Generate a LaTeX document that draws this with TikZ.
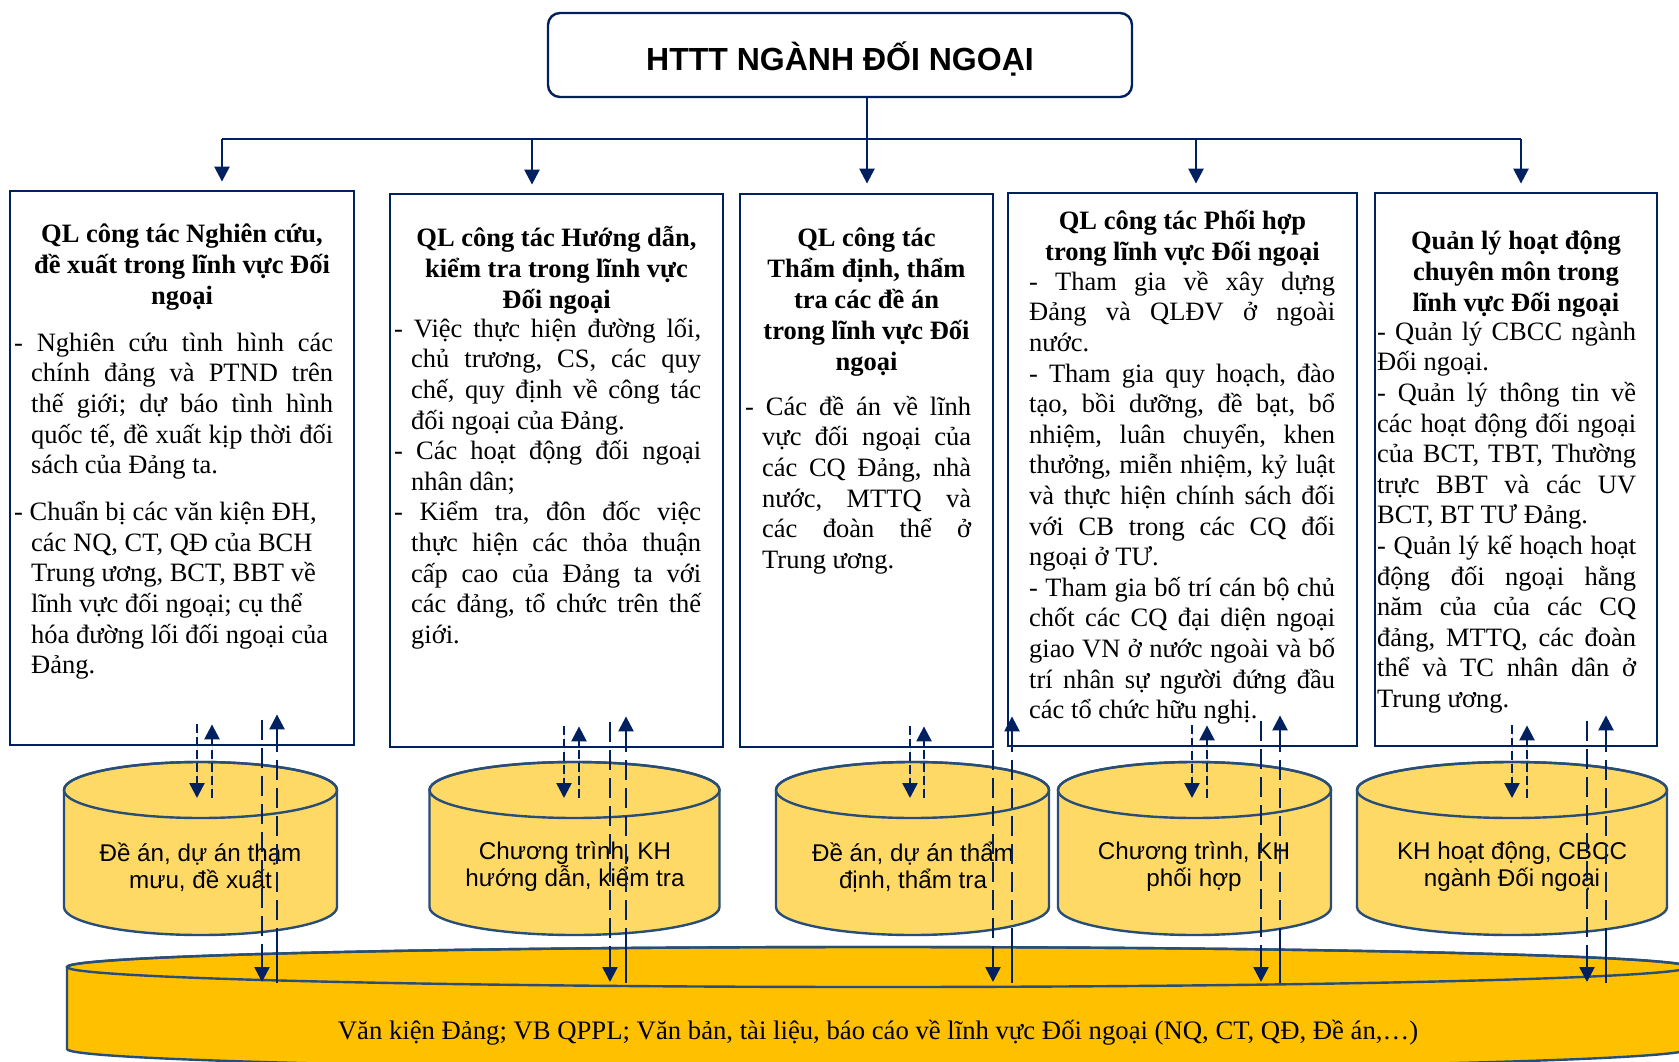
\documentclass[tikz,border=0pt]{standalone}
\usepackage{fontspec}
\setmainfont{Liberation Serif}
\newfontfamily\sansfam{Liberation Sans}
\usetikzlibrary{arrows.meta,calc}
\definecolor{navy}{RGB}{0,32,96}
\definecolor{rim}{RGB}{40,78,120}
\definecolor{goldlight}{RGB}{255,217,102}
\definecolor{gold}{RGB}{255,192,0}
\newlength\hangw
\setlength\hangw{17pt}
% word spacing: natural font spaces, and freely stretchable ones for justified lines
\newcommand\natsp{\spaceskip=0pt\relax\xspaceskip=0pt\relax}
\newcommand\jsp{\spaceskip=\fontdimen2\font plus 1fill minus \fontdimen4\font\relax\xspaceskip=0pt\relax}
% justified line of given content, and the same with a hanging dash
\newcommand\jline[1]{\makebox[\hsize][s]{\jsp #1}}
\newcommand\hjline[1]{\hspace*{-\hangw}\makebox[\dimexpr\hsize+\hangw\relax][s]{\jsp #1}}
\newcommand\firstline{\rule{0pt}{24pt}}

\begin{document}
\begin{tikzpicture}[x=1pt,y=-1pt,
  frame/.style={draw=navy, line width=2.8pt, fill=white, inner sep=0pt},
  topbox/.style={frame, rounded corners=12pt, line width=2.4pt,
    font=\sansfam\bfseries\fontsize{32pt}{36pt}\selectfont, text height=31pt, text depth=0pt},
  ttl/.style={align=center, inner sep=0pt, font=\bfseries\fontsize{26.5pt}{31pt}\selectfont},
  body/.style={align=left, inner sep=0pt, anchor=north west,
    font=\frenchspacing\fontsize{26.5pt}{30.6pt}\selectfont},
  cyl/.style={draw=rim, line width=2.4pt, fill=goldlight},
  bigcyl/.style={draw=rim, line width=2.4pt, fill=gold},
  cyltext/.style={align=center, inner sep=0pt, font=\sansfam\fontsize{24.2pt}{27pt}\selectfont},
  ln/.style={draw=navy, line width=2.5pt},
  sdash/.style={ln, dash pattern=on 9pt off 4pt},
  ldash/.style={ln, dash pattern=on 20pt off 8pt},
  tip/.style={-{Triangle[width=15pt,length=15pt]}, fill=navy}
]
\useasboundingbox (0,0) rectangle (1679,1062);
\clip (0,0) rectangle (1679,1062);
\fill[white] (0,0) rectangle (1679,1062);

% ---------- shared archive (large cylinder) ----------
\filldraw[bigcyl] (67,967) arc[start angle=180,end angle=0,x radius=811pt,y radius=20pt]
  -- (1689,1049) arc[start angle=0,end angle=-180,x radius=811pt,y radius=20pt] -- cycle;
\draw[bigcyl, fill=none] (878,967) ellipse[x radius=811pt,y radius=20pt];
\coordinate (dbtop) at (878,967);
\node[font=\fontsize{26.7pt}{30pt}\selectfont, inner sep=0pt] (db) at (878,1033)
  {Văn kiện Đảng; VB QPPL; Văn bản, tài liệu, báo cáo về lĩnh vực Đối ngoại (NQ, CT, QĐ, Đề án,…)};

% ---------- small cylinders ----------
\foreach \i/\cx/\rx in {1/200.5/136.5, 2/574.5/145, 3/912.5/136.5, 4/1194.5/136.5, 5/1512/155}{
  \filldraw[cyl] ({\cx-\rx},790) arc[start angle=180,end angle=0,x radius=\rx pt,y radius=28pt]
    -- ({\cx+\rx},907) arc[start angle=0,end angle=-180,x radius=\rx pt,y radius=28pt] -- cycle;
  \draw[cyl, fill=none] (\cx,790) ellipse[x radius=\rx pt,y radius=28pt];
  \coordinate (ct\i) at (\cx,790);
}
\node[cyltext] (c1) at (200.5,867) {Đề án, dự án thạm\\mưu, đề xuất};
\node[cyltext] (c2) at (575,867) {Chương trình, KH\\hướng dẫn, kiểm tra};
\node[cyltext] (c3) at (913,867) {Đề án, dự án thẩm\\định, thẩm tra};
\node[cyltext] (c4) at (1194,867) {Chương trình, KH\\phối hợp};
\node[cyltext] (c5) at (1512,867) {KH hoạt động, CBCC\\ngành Đối ngoại};

% ---------- top box and branch boxes ----------
\node[topbox, minimum width=584pt, minimum height=84pt] (top) at (840,55) {HTTT NGÀNH ĐỐI NGOẠI};
\node[frame, minimum width=344pt, minimum height=554pt] (b1) at (182,468) {};
\node[frame, minimum width=333pt, minimum height=553pt] (b2) at (556.5,470.5) {};
\node[frame, minimum width=253pt, minimum height=553pt] (b3) at (866.5,470.5) {};
\node[frame, minimum width=349pt, minimum height=553pt] (b4) at (1182.5,469.5) {};
\node[frame, minimum width=282pt, minimum height=553pt] (b5) at (1516,469.5) {};

% ---------- box 1 ----------
\node[ttl, anchor=north] (h1) at (182,218)
  {\firstline QL công tác Nghiên cứu,\\đề xuất trong lĩnh vực Đối\\ngoại};
\node[body, text width=302pt] (t1) at (31,327) {\natsp
\firstline\hjline{- Nghiên cứu tình hình các}\\
\jline{chính đảng và PTND trên}\\
\jline{thế giới; dự báo tình hình}\\
\jline{quốc tế, đề xuất kịp thời đối}\\
sách của Đảng ta.\\[16.5pt]
\hspace*{-\hangw}- Chuẩn bị các văn kiện ĐH,\\
các NQ, CT, QĐ của BCH\\
Trung ương, BCT, BBT về\\
lĩnh vực đối ngoại; cụ thể\\
hóa đường lối đối ngoại của\\
Đảng.};

% ---------- box 2 ----------
\node[ttl, anchor=north] (h2) at (556.5,222)
  {\firstline QL công tác Hướng dẫn,\\kiểm tra trong lĩnh vực\\Đối ngoại};
\node[body, text width=290pt] (t2) at (411,313) {\natsp
\firstline\hjline{- Việc thực hiện đường lối,}\\
\jline{chủ trương, CS, các quy}\\
\jline{chế, quy định về công tác}\\
đối ngoại của Đảng.\\
\hjline{- Các hoạt động đối ngoại}\\
nhân dân;\\
\hjline{- Kiểm tra, đôn đốc việc}\\
\jline{thực hiện các thỏa thuận}\\
\jline{cấp cao của Đảng ta với}\\
\jline{các đảng, tổ chức trên thế}\\
giới.};

% ---------- box 3 ----------
\node[ttl, anchor=north] (h3) at (866.5,222)
  {\firstline QL công tác\\Thẩm định, thẩm\\tra các đề án\\trong lĩnh vực Đối\\ngoại};
\node[body, text width=209pt] (t3) at (762,391) {\natsp
\firstline\hjline{- Các đề án về lĩnh}\\
\jline{vực đối ngoại của}\\
\jline{các CQ Đảng, nhà}\\
\jline{nước, MTTQ và}\\
\jline{các đoàn thể ở}\\
Trung ương.};

% ---------- box 4 ----------
\node[ttl, anchor=north] (h4) at (1182.5,205)
  {\firstline QL công tác Phối hợp\\trong lĩnh vực Đối ngoại};
\node[body, text width=306pt] (t4) at (1029,266) {\natsp
\firstline\jline{- Tham gia về xây dựng}\\
\jline{Đảng và QLĐV ở ngoài}\\
nước.\\
\jline{- Tham gia quy hoạch, đào}\\
\jline{tạo, bồi dưỡng, đề bạt, bổ}\\
\jline{nhiệm, luân chuyển, khen}\\
\jline{thưởng, miễn nhiệm, kỷ luật}\\
\jline{và thực hiện chính sách đối}\\
\jline{với CB trong các CQ đối}\\
ngoại ở TƯ.\\
\jline{- Tham gia bố trí cán bộ chủ}\\
\jline{chốt các CQ đại diện ngoại}\\
\jline{giao VN ở nước ngoài và bố}\\
\jline{trí nhân sự người đứng đầu}\\
các tổ chức hữu nghị.};

% ---------- box 5 ----------
\node[ttl, anchor=north] (h5) at (1516,225)
  {\firstline Quản lý hoạt động\\chuyên môn trong\\lĩnh vực Đối ngoại};
\node[body, text width=259pt] (t5) at (1377,316) {\natsp
\firstline\jline{- Quản lý CBCC ngành}\\
Đối ngoại.\\
\jline{- Quản lý thông tin về}\\
\jline{các hoạt động đối ngoại}\\
\jline{của BCT, TBT, Thường}\\
\jline{trực BBT và các UV}\\
BCT, BT TƯ Đảng.\\
\jline{- Quản lý kế hoạch hoạt}\\
\jline{động đối ngoại hằng}\\
\jline{năm của của các CQ}\\
\jline{đảng, MTTQ, các đoàn}\\
\jline{thể và TC nhân dân ở}\\
Trung ương.};

% ---------- distribution bus ----------
\coordinate (d1) at (222,139);
\coordinate (d2) at (532,139);
\coordinate (d3) at (867,139);
\coordinate (d4) at (1196,139);
\coordinate (d5) at (1521,139);
\draw[ln] (d1) -- (d5);
\draw[ln, tip] (top.south -| d3) -- ($(d3 |- b3.north)+(0,-9)$);
\foreach \i in {1,2,4,5}{
  \draw[ln, tip] (d\i) -- ($(d\i |- b\i.north)+(0,-8)$);
}

% ---------- exchanges between boxes, cylinders and the archive ----------
\foreach \i/\xa/\xb/\xc/\xd in {1/197/212/262/277, 2/564/579/610/626, 3/910/924/993/1012,
                                  4/1192/1207/1261/1280, 5/1512/1527/1587/1606}{
  % short pair: box <-> own cylinder
  \draw[sdash, tip] ($(b\i.south -| \xa,0)+(0,-22)$) -- ($(ct\i -| \xa,0)+(0,8)$);
  \draw[sdash, tip] ($(ct\i -| \xb,0)+(0,8)$) -- ($(b\i.south -| \xb,0)+(0,-22)$);
  % long pair: box <-> shared archive
  \draw[ldash] ($(b\i.south -| \xc,0)+(0,-26)$) -- ($(dbtop -| \xc,0)+(0,-19)$);
  \draw[ln, tip] ($(dbtop -| \xc,0)+(0,-19)$) -- ($(dbtop -| \xc,0)+(0,15)$);
  \draw[ln] ($(dbtop -| \xd,0)+(0,16)$) -- ($(dbtop -| \xd,0)+(0,-19)$);
  \draw[ldash] ($(dbtop -| \xd,0)+(0,-19)$) -- ($(b\i.south -| \xd,0)+(0,2)$);
  \draw[ln, tip] ($(b\i.south -| \xd,0)+(0,2)$) -- ($(b\i.south -| \xd,0)+(0,-32)$);
}
\end{tikzpicture}
\end{document}
